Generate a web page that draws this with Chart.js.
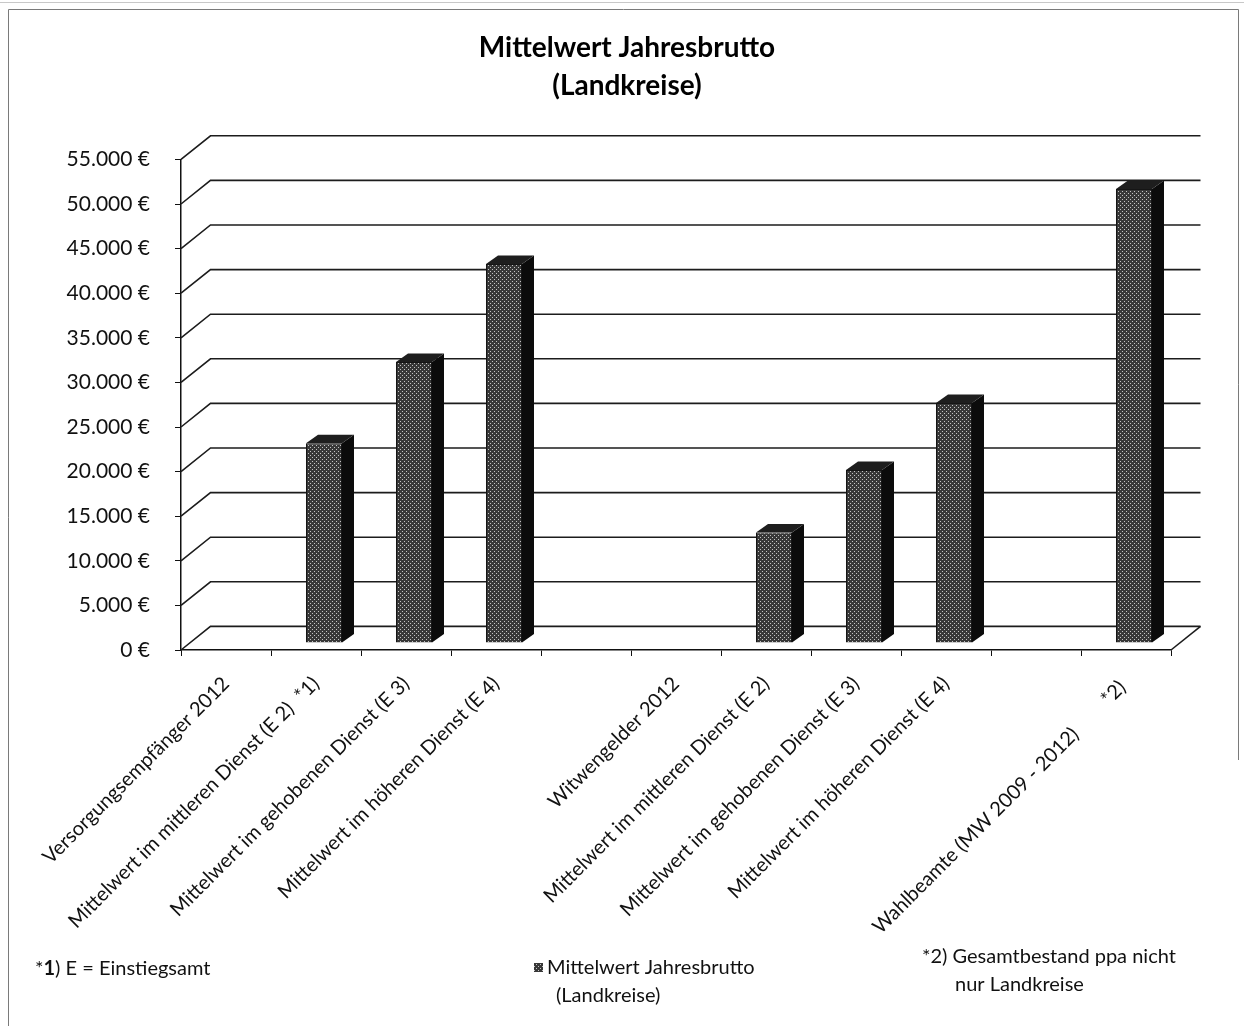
<!DOCTYPE html>
<html>
<head>
<meta charset="utf-8">
<title>Mittelwert Jahresbrutto (Landkreise)</title>
<script src="https://cdn.jsdelivr.net/npm/chart.js@4.4.1/dist/chart.umd.min.js"></script>
<style>
  html, body { margin: 0; padding: 0; background: #fff; }
  #wrap { width: 1244px; height: 1026px; }
</style>
</head>
<body>
<div id="wrap"><canvas id="chart" width="1244" height="1026"></canvas></div>
<script>
// data
const categories = [
  'Versorgungsempfänger 2012',
  'Mittelwert im mittleren Dienst (E 2)  *1)',
  'Mittelwert im gehobenen Dienst (E 3)',
  'Mittelwert im höheren Dienst (E 4)',
  '',
  'Witwengelder 2012',
  'Mittelwert im mittleren Dienst (E 2)',
  'Mittelwert im gehobenen Dienst (E 3)',
  'Mittelwert im höheren Dienst (E 4)',
  '',
  'Wahlbeamte (MW 2009 - 2012)        *2) '
];
const values = [null, 22400, 31500, 42500, null, null, 12400, 19400, 26900, null, 50900];
const seriesName = 'Mittelwert Jahresbrutto (Landkreise)';
const titleLines = ['Mittelwert Jahresbrutto', '(Landkreise)'];
const yMax = 55000;
const yStep = 5000;
const noteLeft = '*1) E = Einstiegsamt';
const noteRight = ['*2) Gesamtbestand ppa nicht', 'nur Landkreise'];

// 3d look
const WALL_DX = 29.5, WALL_DY = -23.6;   // back wall offset
const BAR_DX = 8, BAR_DY = -7;           // bar front face offset
const SIDE_DX = 12, SIDE_DY = -8.5;      // bar depth
const FONT = 'Lato, "Open Sans", sans-serif';

function euro(v) {
  return String(v).replace(/\B(?=(\d{3})+(?!\d))/g, '.') + ' €';
}

// dotted dark fill like the printed bars
function makePattern() {
  const c = document.createElement('canvas');
  c.width = 4; c.height = 4;
  const g = c.getContext('2d');
  g.fillStyle = '#383838';
  g.fillRect(0, 0, 4, 4);
  g.fillStyle = '#c4c4c4';
  g.fillRect(0, 0, 1, 1);
  g.fillRect(2, 2, 1, 1);
  return g.createPattern(c, 'repeat');
}

const ctx = document.getElementById('chart').getContext('2d');
const barFill = makePattern();

const depthPlugin = {
  id: 'depth3d',
  beforeDatasetsDraw(chart) {
    const {ctx, chartArea: a, scales: {y}} = chart;
    ctx.save();
    ctx.strokeStyle = '#1c1c1c';
    ctx.lineWidth = 1.6;
    y.ticks.forEach(t => {
      const py = y.getPixelForValue(t.value);
      ctx.beginPath();
      ctx.moveTo(a.left, py);
      ctx.lineTo(a.left + WALL_DX, py + WALL_DY);
      ctx.lineTo(a.right + WALL_DX, py + WALL_DY);
      ctx.stroke();
    });
    ctx.beginPath();
    ctx.moveTo(a.right, a.bottom);
    ctx.lineTo(a.right + WALL_DX, a.bottom + WALL_DY);
    ctx.stroke();
    ctx.restore();
    // bars sit a bit inside the floor
    ctx.save();
    ctx.translate(BAR_DX, BAR_DY);
  },
  afterDatasetsDraw(chart) {
    const ctx = chart.ctx;
    ctx.restore();
    const meta = chart.getDatasetMeta(0);
    meta.data.forEach((bar, i) => {
      if (values[i] == null) return;
      const {x, y, base, width} = bar.getProps(['x', 'y', 'base', 'width'], true);
      const l = x - width / 2 + BAR_DX, r = x + width / 2 + BAR_DX;
      const t = y + BAR_DY, b = base + BAR_DY;
      ctx.save();
      ctx.fillStyle = '#0b0b0b';
      ctx.beginPath();
      ctx.moveTo(r, t);
      ctx.lineTo(r + SIDE_DX, t + SIDE_DY);
      ctx.lineTo(r + SIDE_DX, b + SIDE_DY);
      ctx.lineTo(r, b);
      ctx.closePath();
      ctx.fill();
      ctx.fillStyle = '#1e1e1e';
      ctx.beginPath();
      ctx.moveTo(l, t);
      ctx.lineTo(l + SIDE_DX, t + SIDE_DY);
      ctx.lineTo(r + SIDE_DX, t + SIDE_DY);
      ctx.lineTo(r, t);
      ctx.closePath();
      ctx.fill();
      ctx.restore();
    });
  },
  afterDraw(chart) {
    const ctx = chart.ctx;
    ctx.save();
    // frame
    ctx.strokeStyle = '#7a7a7a';
    ctx.lineWidth = 1;
    ctx.beginPath();
    ctx.moveTo(8.5, 1026);
    ctx.lineTo(8.5, 9.5);
    ctx.lineTo(1238.5, 9.5);
    ctx.lineTo(1238.5, 760);
    ctx.stroke();
    ctx.strokeStyle = '#c8c8c8';
    ctx.beginPath();
    ctx.moveTo(0, 2.5);
    ctx.lineTo(1244, 2.5);
    ctx.stroke();

    // title
    ctx.fillStyle = '#000';
    ctx.textBaseline = 'middle';
    ctx.textAlign = 'center';
    ctx.font = 'bold 28px ' + FONT;
    ctx.fillText(titleLines[0], 627, 48);
    ctx.fillText(titleLines[1], 627, 86);

    // footnotes (the "1" of *1) is bold in the original)
    ctx.fillStyle = '#111';
    ctx.textAlign = 'left';
    const normal = '20px ' + FONT, bold = 'bold 20px ' + FONT;
    let nx = 35;
    [[noteLeft.slice(0, 1), normal], [noteLeft.slice(1, 2), bold], [noteLeft.slice(2), normal]].forEach(([s, f]) => {
      ctx.font = f;
      ctx.fillText(s, nx, 969);
      nx += ctx.measureText(s).width;
    });
    ctx.font = normal;
    ctx.fillText(noteRight[0], 922, 957);
    ctx.fillText(noteRight[1], 955, 985);

    // legend, wrapped like the original
    const name = chart.data.datasets[0].label;
    const cut = name.indexOf(' (');
    ctx.fillStyle = barFill;
    ctx.fillRect(534, 963, 9, 9);
    ctx.fillStyle = '#111';
    ctx.fillText(name.slice(0, cut), 547, 968);
    ctx.fillText(name.slice(cut + 1), 556, 996);
    ctx.restore();
  }
};

new Chart(ctx, {
  type: 'bar',
  data: {
    labels: categories,
    datasets: [{
      label: seriesName,
      data: values,
      backgroundColor: barFill,
      borderColor: '#151515',
      borderWidth: 1,
      categoryPercentage: 1,
      barPercentage: 0.4,
      clip: false
    }]
  },
  options: {
    responsive: false,
    animation: false,
    layout: { padding: { left: 58, right: 73, top: 159.4, bottom: 0 } },
    plugins: {
      legend: { display: false },
      tooltip: { enabled: false },
      title: { display: false }
    },
    scales: {
      x: {
        afterFit(scale) { scale.height = 376; },
        grid: { drawOnChartArea: false, drawTicks: true, tickLength: 6, color: '#111' },
        border: { display: true, color: '#111', width: 1.5 },
        ticks: {
          autoSkip: false,
          minRotation: 45,
          maxRotation: 45,
          padding: 16,
          color: '#111',
          font: { family: FONT, size: 20 }
        }
      },
      y: {
        min: 0,
        max: yMax,
        afterFit(scale) { scale.width = 123; },
        grid: { drawOnChartArea: false, drawTicks: true, tickLength: 6, color: '#111' },
        border: { display: true, color: '#111', width: 1.5 },
        ticks: {
          stepSize: yStep,
          padding: 25,
          color: '#111',
          font: { family: FONT, size: 21 },
          callback: v => euro(v)
        }
      }
    }
  },
  plugins: [depthPlugin]
});
</script>
</body>
</html>
